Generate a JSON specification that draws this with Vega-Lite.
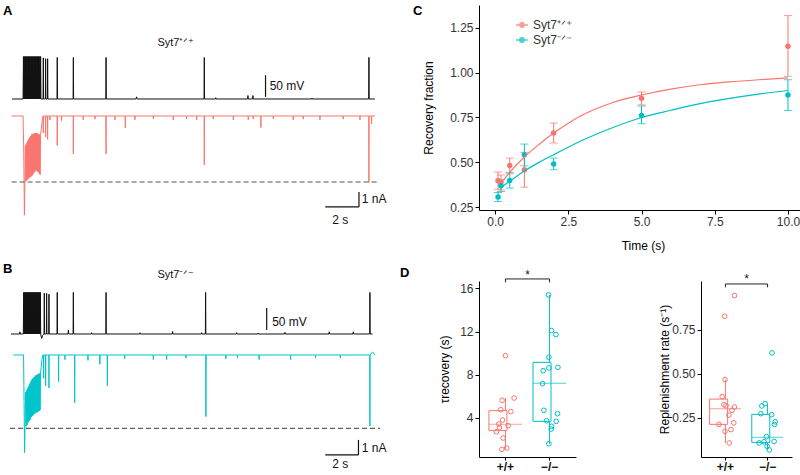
{
  "$schema": "https://vega.github.io/schema/vega-lite/v6.json",
  "padding": {"top": 4, "left": 0, "right": 0, "bottom": 0},
  "background": "white",
  "config": {
    "font": "Liberation Sans",
    "view": {"stroke": null},
    "axis": {"domainColor": "black", "tickColor": "black", "labelColor": "#333", "labelFontSize": 12, "titleFontSize": 12, "titleFontWeight": "normal", "titleColor": "black", "grid": false, "tickSize": 4, "labelPadding": 2, "domainWidth": 1, "titlePadding": 4},
    "title": {"fontSize": 13, "fontWeight": "bold", "anchor": "start", "color": "black", "frame": "group"}
  },
  "datasets": {
    "A_V": [
      {"t":0.72,"v":-65},{"t":1.39,"v":-65},{"t":1.4125,"v":33},{"t":1.435,"v":-65},{"t":1.4575,"v":33},{"t":1.48,"v":-65},{"t":1.5025,"v":33},{"t":1.525,"v":-65},{"t":1.5475,"v":33},{"t":1.57,"v":-65},{"t":1.5925,"v":33},{"t":1.615,"v":-65},{"t":1.6375,"v":33},{"t":1.66,"v":-65},{"t":1.6825,"v":33},{"t":1.705,"v":-65},{"t":1.7275,"v":33},{"t":1.75,"v":-65},{"t":1.7725,"v":33},{"t":1.795,"v":-65},{"t":1.8175,"v":33},{"t":1.84,"v":-65},{"t":1.8625,"v":33},{"t":1.885,"v":-65},{"t":1.9075,"v":33},{"t":1.93,"v":-65},{"t":1.9525,"v":33},{"t":1.975,"v":-65},{"t":1.9975,"v":33},{"t":2.02,"v":-65},{"t":2.0425,"v":33},{"t":2.065,"v":-65},{"t":2.0875,"v":33},{"t":2.11,"v":-65},{"t":2.1325,"v":33},{"t":2.155,"v":-65},{"t":2.1775,"v":33},{"t":2.2,"v":-65},{"t":2.2225,"v":33},{"t":2.245,"v":-65},{"t":2.2675,"v":33},{"t":2.29,"v":-65},{"t":2.3125,"v":33},{"t":2.335,"v":-65},{"t":2.3575,"v":33},{"t":2.38,"v":-65},{"t":2.4025,"v":33},{"t":2.425,"v":-65},{"t":2.4475,"v":33},{"t":2.47,"v":-65},
      {"t":2.595,"v":-65},{"t":2.61,"v":30},{"t":2.625,"v":-65},
      {"t":2.735,"v":-65},{"t":2.75,"v":28},{"t":2.765,"v":-65},
      {"t":2.855,"v":-65},{"t":2.87,"v":28},{"t":2.885,"v":-65},
      {"t":3.435,"v":-65},{"t":3.45,"v":31},{"t":3.465,"v":-65},
      {"t":4.405,"v":-65},{"t":4.42,"v":31},{"t":4.435,"v":-65},
      {"t":6.375,"v":-65},{"t":6.39,"v":31},{"t":6.405,"v":-65},
      {"t":8.2,"v":-65},{"t":8.23,"v":-60},{"t":8.26,"v":-65},
      {"t":12.295,"v":-65},{"t":12.31,"v":31},{"t":12.325,"v":-65},
      {"t":12.98,"v":-65},{"t":13.0,"v":-62},{"t":13.02,"v":-65},
      {"t":14.92,"v":-65},{"t":14.94,"v":-57},{"t":14.96,"v":-65},
      {"t":15.22,"v":-65},{"t":15.24,"v":-57},{"t":15.26,"v":-65},
      {"t":18.78,"v":-65},{"t":18.8,"v":-63},{"t":18.82,"v":-65},
      {"t":22.215,"v":-65},{"t":22.23,"v":31},{"t":22.245,"v":-65},
      {"t":22.59,"v":-65}
    ],
    "A_I": [
      {"t":0.7,"v":0},{"t":1.39,"v":0},{"t":1.43,"v":-2.2},{"t":1.47,"v":-6.4},{"t":1.5,"v":-4.5},{"t":1.52,"v":-2.0},
      {"t":1.54,"v":-1.9},{"t":1.5625,"v":-4.2},{"t":1.585,"v":-1.8},{"t":1.6075,"v":-4.15},{"t":1.63,"v":-1.7},{"t":1.6525,"v":-4.1},{"t":1.675,"v":-1.6},{"t":1.6975,"v":-4.05},{"t":1.72,"v":-1.5},{"t":1.7425,"v":-4.0},{"t":1.765,"v":-1.45},{"t":1.7875,"v":-3.95},{"t":1.81,"v":-1.35},{"t":1.8325,"v":-3.95},{"t":1.855,"v":-1.3},{"t":1.8775,"v":-3.9},{"t":1.9,"v":-1.2},{"t":1.9225,"v":-3.85},{"t":1.945,"v":-1.2},{"t":1.9675,"v":-3.8},{"t":1.99,"v":-1.15},{"t":2.0125,"v":-3.7},{"t":2.035,"v":-1.15},{"t":2.0575,"v":-3.65},{"t":2.08,"v":-1.1},{"t":2.1025,"v":-3.6},{"t":2.125,"v":-1.1},{"t":2.1475,"v":-3.5},{"t":2.17,"v":-1.1},{"t":2.1925,"v":-3.5},{"t":2.215,"v":-1.1},{"t":2.2375,"v":-3.55},{"t":2.26,"v":-1.15},{"t":2.2825,"v":-3.6},{"t":2.305,"v":-1.15},{"t":2.3275,"v":-3.65},{"t":2.35,"v":-1.2},{"t":2.3725,"v":-3.7},{"t":2.395,"v":-1.2},{"t":2.4175,"v":-3.8},{"t":2.44,"v":-1.2},
      {"t":2.48,"v":-0.9},{"t":2.52,"v":-0.5},{"t":2.56,"v":-0.2},{"t":2.59,"v":0},
      {"t":2.6,"v":0},{"t":2.61,"v":-1.1},{"t":2.62,"v":0},
      {"t":2.74,"v":0},{"t":2.75,"v":-1.35},{"t":2.76,"v":0},
      {"t":2.86,"v":0},{"t":2.87,"v":-1.5},{"t":2.88,"v":0},
      {"t":3.0,"v":0},{"t":3.01,"v":-0.25},{"t":3.02,"v":0},
      {"t":3.44,"v":0},{"t":3.45,"v":-1.9},{"t":3.46,"v":0},
      {"t":3.7,"v":0},{"t":3.71,"v":-0.3},{"t":3.72,"v":0},
      {"t":4.41,"v":0},{"t":4.42,"v":-2.45},{"t":4.43,"v":0},
      {"t":5.01,"v":0},{"t":5.02,"v":-0.25},{"t":5.03,"v":0},
      {"t":5.71,"v":0},{"t":5.72,"v":-0.2},{"t":5.73,"v":0},
      {"t":6.38,"v":0},{"t":6.39,"v":-2.45},{"t":6.4,"v":0},
      {"t":6.92,"v":0},{"t":6.93,"v":-0.25},{"t":6.94,"v":0},
      {"t":7.54,"v":0},{"t":7.55,"v":-0.77},{"t":7.56,"v":0},
      {"t":8.12,"v":0},{"t":8.13,"v":-0.25},{"t":8.14,"v":0},
      {"t":9.23,"v":0},{"t":9.24,"v":-0.2},{"t":9.25,"v":0},
      {"t":10.43,"v":0},{"t":10.44,"v":-0.25},{"t":10.45,"v":0},
      {"t":11.23,"v":0},{"t":11.24,"v":-0.2},{"t":11.25,"v":0},
      {"t":11.84,"v":0},{"t":11.85,"v":-0.25},{"t":11.86,"v":0},
      {"t":12.3,"v":0},{"t":12.31,"v":-3.16},{"t":12.32,"v":0},
      {"t":12.84,"v":0},{"t":12.85,"v":-0.2},{"t":12.86,"v":0},
      {"t":14.05,"v":0},{"t":14.06,"v":-0.25},{"t":14.07,"v":0},
      {"t":14.95,"v":0},{"t":14.96,"v":-0.25},{"t":14.97,"v":0},
      {"t":15.25,"v":0},{"t":15.26,"v":-0.2},{"t":15.27,"v":0},
      {"t":15.71,"v":0},{"t":15.72,"v":-0.75},{"t":15.73,"v":0},
      {"t":16.46,"v":0},{"t":16.47,"v":-0.2},{"t":16.48,"v":0},
      {"t":17.66,"v":0},{"t":17.67,"v":-0.25},{"t":17.68,"v":0},
      {"t":18.26,"v":0},{"t":18.27,"v":-0.2},{"t":18.28,"v":0},
      {"t":19.27,"v":0},{"t":19.28,"v":-0.25},{"t":19.29,"v":0},
      {"t":20.67,"v":0},{"t":20.68,"v":-0.2},{"t":20.69,"v":0},
      {"t":21.68,"v":0},{"t":21.69,"v":-0.25},{"t":21.7,"v":0},
      {"t":22.22,"v":0},{"t":22.23,"v":-4.28},{"t":22.24,"v":0},
      {"t":22.38,"v":0},{"t":22.39,"v":-0.5},{"t":22.4,"v":0},{"t":22.6,"v":0}
    ],
    "B_V": [
      {"t":0.66,"v":-65},{"t":1.18,"v":-65},{"t":1.2,"v":-60},{"t":1.22,"v":-65},{"t":1.38,"v":-65},
      {"t":1.405,"v":-65},{"t":1.4268,"v":31},{"t":1.4486,"v":-65},{"t":1.4704,"v":31},{"t":1.4922,"v":-65},{"t":1.514,"v":31},{"t":1.5358,"v":-65},{"t":1.5576,"v":31},{"t":1.5794,"v":-65},{"t":1.6012,"v":31},{"t":1.623,"v":-65},{"t":1.6448,"v":31},{"t":1.6666,"v":-65},{"t":1.6884,"v":31},{"t":1.7102,"v":-65},{"t":1.732,"v":31},{"t":1.7538,"v":-65},{"t":1.7756,"v":31},{"t":1.7974,"v":-65},{"t":1.8192,"v":31},{"t":1.841,"v":-65},{"t":1.8628,"v":31},{"t":1.8846,"v":-65},{"t":1.9064,"v":31},{"t":1.9282,"v":-65},{"t":1.95,"v":31},{"t":1.9718,"v":-65},{"t":1.9936,"v":31},{"t":2.0154,"v":-65},{"t":2.0372,"v":31},{"t":2.059,"v":-65},{"t":2.0808,"v":31},{"t":2.1026,"v":-65},{"t":2.1244,"v":31},{"t":2.1462,"v":-65},{"t":2.168,"v":31},{"t":2.1898,"v":-65},{"t":2.2116,"v":31},{"t":2.2334,"v":-65},{"t":2.2552,"v":31},{"t":2.277,"v":-65},{"t":2.2988,"v":31},{"t":2.3206,"v":-65},{"t":2.3424,"v":31},{"t":2.3642,"v":-65},{"t":2.386,"v":31},{"t":2.4078,"v":-65},{"t":2.4296,"v":31},{"t":2.4514,"v":-65},
      {"t":2.49,"v":-72},{"t":2.52,"v":-75},{"t":2.56,"v":-69},{"t":2.62,"v":-66},
      {"t":2.655,"v":-66},{"t":2.67,"v":29},{"t":2.685,"v":-65},
      {"t":2.795,"v":-65},{"t":2.81,"v":29},{"t":2.825,"v":-65},
      {"t":2.935,"v":-65},{"t":2.95,"v":27},{"t":2.965,"v":-65},
      {"t":3.435,"v":-65},{"t":3.45,"v":31},{"t":3.465,"v":-65},
      {"t":4.1,"v":-65},{"t":4.12,"v":-56},{"t":4.14,"v":-65},
      {"t":4.405,"v":-65},{"t":4.42,"v":31},{"t":4.435,"v":-65},
      {"t":5.5,"v":-65},{"t":5.52,"v":-62},{"t":5.54,"v":-65},
      {"t":6.375,"v":-65},{"t":6.39,"v":31},{"t":6.405,"v":-65},
      {"t":8.41,"v":-65},{"t":8.43,"v":-62},{"t":8.45,"v":-65},
      {"t":10.38,"v":-65},{"t":10.4,"v":-59},{"t":10.42,"v":-65},
      {"t":12.13,"v":-65},{"t":12.15,"v":-62},{"t":12.17,"v":-65},
      {"t":12.375,"v":-65},{"t":12.39,"v":31},{"t":12.405,"v":-65},
      {"t":14.24,"v":-65},{"t":14.26,"v":-62},{"t":14.28,"v":-65},
      {"t":15.54,"v":-65},{"t":15.56,"v":-63},{"t":15.58,"v":-65},
      {"t":17.15,"v":-65},{"t":17.17,"v":-61},{"t":17.19,"v":-65},
      {"t":19.82,"v":-65},{"t":19.84,"v":-60},{"t":19.86,"v":-65},
      {"t":21.27,"v":-65},{"t":21.29,"v":-60},{"t":21.31,"v":-65},
      {"t":22.275,"v":-65},{"t":22.29,"v":31},{"t":22.305,"v":-65},
      {"t":22.45,"v":-65}
    ],
    "B_I": [
      {"t":0.8,"v":0},{"t":1.42,"v":0},{"t":1.45,"v":-3},{"t":1.48,"v":-6.3},{"t":1.51,"v":-4.6},{"t":1.54,"v":-2.4},
      {"t":1.56,"v":-2.4},{"t":1.582,"v":-4.6},{"t":1.604,"v":-2.3},{"t":1.626,"v":-4.5},{"t":1.648,"v":-2.2},{"t":1.67,"v":-4.4},{"t":1.692,"v":-2.1},{"t":1.714,"v":-4.3},{"t":1.736,"v":-2.0},{"t":1.758,"v":-4.25},{"t":1.78,"v":-1.9},{"t":1.802,"v":-4.2},{"t":1.824,"v":-1.8},{"t":1.846,"v":-4.1},{"t":1.868,"v":-1.7},{"t":1.89,"v":-4.0},{"t":1.912,"v":-1.6},{"t":1.934,"v":-3.95},{"t":1.956,"v":-1.55},{"t":1.978,"v":-3.9},{"t":2.0,"v":-1.5},{"t":2.022,"v":-3.85},{"t":2.044,"v":-1.45},{"t":2.066,"v":-3.8},{"t":2.088,"v":-1.4},{"t":2.11,"v":-3.75},{"t":2.132,"v":-1.35},{"t":2.154,"v":-3.75},{"t":2.176,"v":-1.3},{"t":2.198,"v":-3.7},{"t":2.22,"v":-1.3},{"t":2.242,"v":-3.7},{"t":2.264,"v":-1.25},{"t":2.286,"v":-3.65},{"t":2.308,"v":-1.25},{"t":2.33,"v":-3.6},{"t":2.352,"v":-1.2},{"t":2.374,"v":-3.6},{"t":2.396,"v":-1.2},{"t":2.418,"v":-3.55},{"t":2.44,"v":-1.18},
      {"t":2.48,"v":-0.8},{"t":2.53,"v":-0.3},{"t":2.58,"v":0},
      {"t":2.62,"v":0},{"t":2.63,"v":-1.5},{"t":2.64,"v":0},
      {"t":2.74,"v":0},{"t":2.75,"v":-2.0},{"t":2.76,"v":0},
      {"t":2.94,"v":0},{"t":2.95,"v":-2.13},{"t":2.96,"v":0},
      {"t":3.52,"v":0},{"t":3.53,"v":-1.72},{"t":3.54,"v":0},
      {"t":3.9,"v":0},{"t":3.91,"v":-0.3},{"t":3.92,"v":0},
      {"t":4.49,"v":0},{"t":4.5,"v":-3.08},{"t":4.51,"v":0},
      {"t":5.29,"v":0},{"t":5.3,"v":-0.35},{"t":5.31,"v":0},
      {"t":6.01,"v":0},{"t":6.02,"v":-0.6},{"t":6.03,"v":0},
      {"t":6.46,"v":0},{"t":6.47,"v":-2.0},{"t":6.48,"v":0},
      {"t":7.5,"v":0},{"t":7.51,"v":-0.25},{"t":7.52,"v":0},
      {"t":9.23,"v":0},{"t":9.24,"v":-0.3},{"t":9.25,"v":0},
      {"t":10.03,"v":0},{"t":10.04,"v":-0.3},{"t":10.05,"v":0},
      {"t":11.2,"v":0},{"t":11.21,"v":-0.2},{"t":11.22,"v":0},
      {"t":12.4,"v":0},{"t":12.41,"v":-3.98},{"t":12.42,"v":0},
      {"t":13.6,"v":0},{"t":13.61,"v":-0.25},{"t":13.62,"v":0},
      {"t":14.3,"v":0},{"t":14.31,"v":-0.2},{"t":14.32,"v":0},
      {"t":15.6,"v":0},{"t":15.61,"v":-0.3},{"t":15.62,"v":0},
      {"t":17.5,"v":0},{"t":17.51,"v":-0.3},{"t":17.52,"v":0},
      {"t":19.0,"v":0},{"t":19.01,"v":-0.2},{"t":19.02,"v":0},
      {"t":20.5,"v":0},{"t":20.51,"v":-0.2},{"t":20.52,"v":0},
      {"t":22.28,"v":0},{"t":22.29,"v":-4.58},{"t":22.3,"v":0},
      {"t":22.45,"v":0.2},{"t":22.6,"v":0}
    ],
    "recovery": [
      {"genotype":"+/+","time":0.1,"mean":0.398,"lo":0.351,"hi":0.446},
      {"genotype":"+/+","time":0.2,"mean":0.388,"lo":0.347,"hi":0.43},
      {"genotype":"+/+","time":0.5,"mean":0.483,"lo":0.437,"hi":0.524},
      {"genotype":"+/+","time":1,"mean":0.459,"lo":0.362,"hi":0.556},
      {"genotype":"+/+","time":2,"mean":0.663,"lo":0.608,"hi":0.719},
      {"genotype":"+/+","time":5,"mean":0.857,"lo":0.82,"hi":0.892},
      {"genotype":"+/+","time":10,"mean":1.146,"lo":0.979,"hi":1.317},
      {"genotype":"−/−","time":0.1,"mean":0.307,"lo":0.282,"hi":0.333},
      {"genotype":"−/−","time":0.2,"mean":0.37,"lo":0.338,"hi":0.403},
      {"genotype":"−/−","time":0.5,"mean":0.399,"lo":0.357,"hi":0.444},
      {"genotype":"−/−","time":1,"mean":0.543,"lo":0.481,"hi":0.602},
      {"genotype":"−/−","time":2,"mean":0.491,"lo":0.459,"hi":0.524},
      {"genotype":"−/−","time":5,"mean":0.761,"lo":0.715,"hi":0.814},
      {"genotype":"−/−","time":10,"mean":0.875,"lo":0.789,"hi":0.96}
    ],
    "fit": [
      {"genotype":"+/+","time":0.2,"fit":0.385},{"genotype":"+/+","time":0.5,"fit":0.445},{"genotype":"+/+","time":1,"fit":0.53},{"genotype":"+/+","time":1.5,"fit":0.6},{"genotype":"+/+","time":2,"fit":0.663},{"genotype":"+/+","time":2.5,"fit":0.718},{"genotype":"+/+","time":3,"fit":0.765},{"genotype":"+/+","time":4,"fit":0.832},{"genotype":"+/+","time":5,"fit":0.875},{"genotype":"+/+","time":6,"fit":0.908},{"genotype":"+/+","time":7,"fit":0.932},{"genotype":"+/+","time":8,"fit":0.948},{"genotype":"+/+","time":9,"fit":0.96},{"genotype":"+/+","time":10,"fit":0.97},
      {"genotype":"−/−","time":0.2,"fit":0.36},{"genotype":"−/−","time":0.5,"fit":0.395},{"genotype":"−/−","time":1,"fit":0.452},{"genotype":"−/−","time":1.5,"fit":0.5},{"genotype":"−/−","time":2,"fit":0.543},{"genotype":"−/−","time":3,"fit":0.625},{"genotype":"−/−","time":4,"fit":0.693},{"genotype":"−/−","time":5,"fit":0.75},{"genotype":"−/−","time":6,"fit":0.79},{"genotype":"−/−","time":7,"fit":0.827},{"genotype":"−/−","time":8,"fit":0.856},{"genotype":"−/−","time":9,"fit":0.88},{"genotype":"−/−","time":10,"fit":0.9}
    ],
    "tauBox": [
      {"genotype":"+/+","lower":1.10,"q1":2.83,"median":3.41,"q3":4.68,"upper":5.85},
      {"genotype":"−/−","lower":1.62,"q1":3.69,"median":7.21,"q3":9.15,"upper":15.39}
    ],
    "tauPts": [
      {"genotype":"+/+","tau":9.77,"jitter":0.5},{"genotype":"+/+","tau":5.64,"jitter":0.424},{"genotype":"+/+","tau":5.85,"jitter":0.697},{"genotype":"+/+","tau":4.77,"jitter":0.394},{"genotype":"+/+","tau":4.59,"jitter":0.621},{"genotype":"+/+","tau":3.81,"jitter":0.432},{"genotype":"+/+","tau":3.44,"jitter":0.348},{"genotype":"+/+","tau":3.29,"jitter":0.561},{"genotype":"+/+","tau":3.10,"jitter":0.364},{"genotype":"+/+","tau":2.73,"jitter":0.295},{"genotype":"+/+","tau":2.15,"jitter":0.447},{"genotype":"+/+","tau":1.22,"jitter":0.53},{"genotype":"+/+","tau":1.10,"jitter":0.417},
      {"genotype":"−/−","tau":15.39,"jitter":0.477},{"genotype":"−/−","tau":12.09,"jitter":0.545},{"genotype":"−/−","tau":11.72,"jitter":0.644},{"genotype":"−/−","tau":9.62,"jitter":0.485},{"genotype":"−/−","tau":8.38,"jitter":0.356},{"genotype":"−/−","tau":8.63,"jitter":0.485},{"genotype":"−/−","tau":8.69,"jitter":0.689},{"genotype":"−/−","tau":7.18,"jitter":0.341},{"genotype":"−/−","tau":4.71,"jitter":0.371},{"genotype":"−/−","tau":4.40,"jitter":0.682},{"genotype":"−/−","tau":3.75,"jitter":0.432},{"genotype":"−/−","tau":3.69,"jitter":0.652},{"genotype":"−/−","tau":3.23,"jitter":0.545},{"genotype":"−/−","tau":2.98,"jitter":0.538},{"genotype":"−/−","tau":1.62,"jitter":0.485}
    ],
    "rateBox": [
      {"genotype":"+/+","lower":0.106,"q1":0.212,"median":0.301,"q3":0.356,"upper":0.467},
      {"genotype":"−/−","lower":0.066,"q1":0.109,"median":0.138,"q3":0.269,"upper":0.330}
    ],
    "ratePts": [
      {"genotype":"+/+","rate":0.946,"jitter":0.683},{"genotype":"+/+","rate":0.828,"jitter":0.46},{"genotype":"+/+","rate":0.467,"jitter":0.468},{"genotype":"+/+","rate":0.370,"jitter":0.405},{"genotype":"+/+","rate":0.324,"jitter":0.444},{"genotype":"+/+","rate":0.318,"jitter":0.492},{"genotype":"+/+","rate":0.311,"jitter":0.683},{"genotype":"+/+","rate":0.292,"jitter":0.627},{"genotype":"+/+","rate":0.265,"jitter":0.556},{"genotype":"+/+","rate":0.212,"jitter":0.333},{"genotype":"+/+","rate":0.221,"jitter":0.667},{"genotype":"+/+","rate":0.172,"jitter":0.468},{"genotype":"+/+","rate":0.182,"jitter":0.603},{"genotype":"+/+","rate":0.106,"jitter":0.563},
      {"genotype":"−/−","rate":0.619,"jitter":0.579},{"genotype":"−/−","rate":0.330,"jitter":0.421},{"genotype":"−/−","rate":0.317,"jitter":0.349},{"genotype":"−/−","rate":0.267,"jitter":0.571},{"genotype":"−/−","rate":0.273,"jitter":0.325},{"genotype":"−/−","rate":0.227,"jitter":0.651},{"genotype":"−/−","rate":0.212,"jitter":0.635},{"genotype":"−/−","rate":0.142,"jitter":0.452},{"genotype":"−/−","rate":0.106,"jitter":0.286},{"genotype":"−/−","rate":0.113,"jitter":0.397},{"genotype":"−/−","rate":0.115,"jitter":0.627},{"genotype":"−/−","rate":0.087,"jitter":0.468},{"genotype":"−/−","rate":0.066,"jitter":0.516}
    ],
    "tauBracket": [
      {"genotype":"+/+","y":16.56,"k":1},{"genotype":"+/+","y":16.87,"k":2},{"genotype":"−/−","y":16.87,"k":3},{"genotype":"−/−","y":16.56,"k":4}
    ],
    "rateBracket": [
      {"genotype":"+/+","y":0.993,"k":1},{"genotype":"+/+","y":1.012,"k":2},{"genotype":"−/−","y":1.012,"k":3},{"genotype":"−/−","y":0.993,"k":4}
    ]
  },
  "hconcat": [
    {
      "vconcat": [
        {
          "title": {"text": "A", "offset": -12.7, "dx": 3},
          "width": 390, "height": 228,
          "layer": [
            {"layer": [
              {"data": {"name": "A_V"}, "mark": {"type": "line", "color": "#111", "strokeWidth": 1},
               "encoding": {"x": {"field": "t", "type": "quantitative", "scale": {"domain": [0, 23.5], "nice": false, "zero": false}, "axis": null},
                            "y": {"field": "v", "type": "quantitative", "scale": {"domain": [-374.5, 152.1], "nice": false, "zero": false}, "axis": null}}},
              {"data": {"values": [{}]}, "mark": {"type": "rule", "color": "#111", "strokeWidth": 1.2},
               "encoding": {"x": {"datum": 16.0, "type": "quantitative", "scale": {"domain": [0, 23.5], "nice": false, "zero": false}}, "y": {"datum": -60, "type": "quantitative", "scale": {"domain": [-374.5, 152.1], "nice": false, "zero": false}}, "y2": {"datum": -10}}},
              {"data": {"values": [{}]}, "mark": {"type": "text", "align": "left", "baseline": "middle", "fontSize": 12, "color": "#111"},
               "encoding": {"x": {"datum": 16.25, "type": "quantitative"}, "y": {"datum": -35, "type": "quantitative"}, "text": {"value": "50 mV"}}},
              {"data": {"values": [{}]}, "mark": {"type": "text", "align": "center", "baseline": "middle", "fontSize": 11, "color": "#111"},
               "encoding": {"x": {"datum": 10.6, "type": "quantitative"}, "y": {"datum": 64, "type": "quantitative"}, "text": {"value": "Syt7⁺ᐟ⁺"}}}
            ]},
            {"layer": [
              {"data": {"name": "A_I"}, "mark": {"type": "line", "color": "#F8766D", "strokeWidth": 1},
               "encoding": {"x": {"field": "t", "type": "quantitative", "scale": {"domain": [0, 23.5], "nice": false, "zero": false}, "axis": null},
                            "y": {"field": "v", "type": "quantitative", "scale": {"domain": [-7.55, 7.16], "nice": false, "zero": false}, "axis": null}}},
              {"data": {"values": [{}]}, "mark": {"type": "rule", "color": "#555", "strokeWidth": 1, "strokeDash": [5, 3]},
               "encoding": {"x": {"datum": 0.7, "type": "quantitative"}, "x2": {"datum": 22.8}, "y": {"datum": -4.26, "type": "quantitative", "scale": {"domain": [-7.55, 7.16], "nice": false, "zero": false}}}},
              {"data": {"values": [{}]}, "mark": {"type": "rule", "color": "#111", "strokeWidth": 1.2},
               "encoding": {"x": {"datum": 21.63, "type": "quantitative"}, "y": {"datum": -5.87, "type": "quantitative"}, "y2": {"datum": -4.9}}},
              {"data": {"values": [{}]}, "mark": {"type": "rule", "color": "#111", "strokeWidth": 1.2},
               "encoding": {"x": {"datum": 19.6, "type": "quantitative"}, "x2": {"datum": 21.63}, "y": {"datum": -5.87, "type": "quantitative"}}},
              {"data": {"values": [{}]}, "mark": {"type": "text", "align": "left", "baseline": "middle", "fontSize": 12, "color": "#111"},
               "encoding": {"x": {"datum": 21.8, "type": "quantitative"}, "y": {"datum": -5.35, "type": "quantitative"}, "text": {"value": "1 nA"}}},
              {"data": {"values": [{}]}, "mark": {"type": "text", "align": "center", "baseline": "middle", "fontSize": 12, "color": "#111"},
               "encoding": {"x": {"datum": 20.5, "type": "quantitative"}, "y": {"datum": -6.7, "type": "quantitative"}, "text": {"value": "2 s"}}}
            ]}
          ],
          "resolve": {"scale": {"y": "independent"}}
        },
        {
          "title": {"text": "B", "offset": -10.3, "dx": 3},
          "width": 390, "height": 206,
          "layer": [
            {"layer": [
              {"data": {"name": "B_V"}, "mark": {"type": "line", "color": "#111", "strokeWidth": 1},
               "encoding": {"x": {"field": "t", "type": "quantitative", "scale": {"domain": [0, 23.5], "nice": false, "zero": false}, "axis": null},
                            "y": {"field": "v", "type": "quantitative", "scale": {"domain": [-383.7, 92], "nice": false, "zero": false}, "axis": null}}},
              {"data": {"values": [{}]}, "mark": {"type": "rule", "color": "#111", "strokeWidth": 1.2},
               "encoding": {"x": {"datum": 16.07, "type": "quantitative"}, "y": {"datum": -56, "type": "quantitative", "scale": {"domain": [-383.7, 92], "nice": false, "zero": false}}, "y2": {"datum": -5}}},
              {"data": {"values": [{}]}, "mark": {"type": "text", "align": "left", "baseline": "middle", "fontSize": 12, "color": "#111"},
               "encoding": {"x": {"datum": 16.4, "type": "quantitative"}, "y": {"datum": -36.6, "type": "quantitative"}, "text": {"value": "50 mV"}}},
              {"data": {"values": [{}]}, "mark": {"type": "text", "align": "center", "baseline": "middle", "fontSize": 11, "color": "#111"},
               "encoding": {"x": {"datum": 10.6, "type": "quantitative"}, "y": {"datum": 71, "type": "quantitative"}, "text": {"value": "Syt7⁻ᐟ⁻"}}}
            ]},
            {"layer": [
              {"data": {"name": "B_I"}, "mark": {"type": "line", "color": "#00C4CC", "strokeWidth": 1},
               "encoding": {"x": {"field": "t", "type": "quantitative", "scale": {"domain": [0, 23.5], "nice": false, "zero": false}, "axis": null},
                            "y": {"field": "v", "type": "quantitative", "scale": {"domain": [-7.55, 5.74], "nice": false, "zero": false}, "axis": null}}},
              {"data": {"values": [{}]}, "mark": {"type": "rule", "color": "#333", "strokeWidth": 1, "strokeDash": [5, 3]},
               "encoding": {"x": {"datum": 0.6, "type": "quantitative"}, "x2": {"datum": 22.9}, "y": {"datum": -4.73, "type": "quantitative", "scale": {"domain": [-7.55, 5.74], "nice": false, "zero": false}}}},
              {"data": {"values": [{}]}, "mark": {"type": "rule", "color": "#111", "strokeWidth": 1.2},
               "encoding": {"x": {"datum": 21.6, "type": "quantitative"}, "y": {"datum": -6.45, "type": "quantitative"}, "y2": {"datum": -5.48}}},
              {"data": {"values": [{}]}, "mark": {"type": "rule", "color": "#111", "strokeWidth": 1.2},
               "encoding": {"x": {"datum": 19.6, "type": "quantitative"}, "x2": {"datum": 21.6}, "y": {"datum": -6.45, "type": "quantitative"}}},
              {"data": {"values": [{}]}, "mark": {"type": "text", "align": "left", "baseline": "middle", "fontSize": 12, "color": "#111"},
               "encoding": {"x": {"datum": 21.8, "type": "quantitative"}, "y": {"datum": -6.0, "type": "quantitative"}, "text": {"value": "1 nA"}}},
              {"data": {"values": [{}]}, "mark": {"type": "text", "align": "center", "baseline": "middle", "fontSize": 12, "color": "#111"},
               "encoding": {"x": {"datum": 20.5, "type": "quantitative"}, "y": {"datum": -7.05, "type": "quantitative"}, "text": {"value": "2 s"}}}
            ]}
          ],
          "resolve": {"scale": {"y": "independent"}}
        }
      ],
      "spacing": 30
    },
    {
      "vconcat": [
        {
          "title": {"text": "C", "offset": -13, "dx": -66},
          "width": 328, "height": 205,
          "layer": [
            {"data": {"name": "recovery"}, "mark": {"type": "rule", "strokeWidth": 1},
             "encoding": {"x": {"field": "time", "type": "quantitative", "scale": {"domain": [-0.55, 10.65], "nice": false, "zero": false},
                                "axis": {"title": "Time (s)", "values": [0, 2.5, 5, 7.5, 10], "format": ".1f", "titlePadding": 13}},
                          "y": {"field": "lo", "type": "quantitative", "scale": {"domain": [0.235, 1.376], "nice": false, "zero": false},
                                "axis": {"title": "Recovery fraction", "values": [0.25, 0.5, 0.75, 1, 1.25], "format": ".2f", "titlePadding": 14}},
                          "y2": {"field": "hi"},
                          "color": {"field": "genotype", "type": "nominal", "scale": {"domain": ["+/+", "−/−"], "range": ["#F8766D", "#00BFC4"]},
                                    "legend": {"orient": "none", "legendX": 36, "legendY": 13, "title": null,
                                               "labelExpr": "datum.value == '+/+' ? 'Syt7⁺ᐟ⁺' : 'Syt7⁻ᐟ⁻'",
                                               "labelFontSize": 12, "labelColor": "#333", "labelOffset": 4,
                                               "symbolType": "M-1,0H1M0.35,0A0.35,0.35,0,1,1,-0.35,0A0.35,0.35,0,1,1,0.35,0",
                                               "symbolSize": 150, "symbolStrokeWidth": 1.6, "rowPadding": 2}}}},
            {"data": {"name": "recovery"}, "mark": {"type": "tick", "orient": "horizontal", "size": 8, "thickness": 1},
             "encoding": {"x": {"field": "time", "type": "quantitative"}, "y": {"field": "lo", "type": "quantitative"},
                          "color": {"field": "genotype", "type": "nominal"}}},
            {"data": {"name": "recovery"}, "mark": {"type": "tick", "orient": "horizontal", "size": 8, "thickness": 1},
             "encoding": {"x": {"field": "time", "type": "quantitative"}, "y": {"field": "hi", "type": "quantitative"},
                          "color": {"field": "genotype", "type": "nominal"}}},
            {"data": {"name": "recovery"}, "mark": {"type": "point", "filled": true, "shape": "circle", "size": 30, "opacity": 1},
             "encoding": {"x": {"field": "time", "type": "quantitative"}, "y": {"field": "mean", "type": "quantitative"},
                          "color": {"field": "genotype", "type": "nominal"}}},
            {"data": {"name": "fit"}, "mark": {"type": "line", "strokeWidth": 1.2, "interpolate": "monotone"},
             "encoding": {"x": {"field": "time", "type": "quantitative"}, "y": {"field": "fit", "type": "quantitative"},
                          "color": {"field": "genotype", "type": "nominal"}}}
          ]
        },
        {
          "hconcat": [
            {
              "title": {"text": "D", "offset": -11, "dx": -79},
              "width": 97, "height": 176,
              "layer": [
                {"data": {"name": "tauBox"}, "mark": {"type": "rule", "strokeWidth": 1},
                 "encoding": {"x": {"field": "genotype", "type": "nominal", "scale": {"domain": ["+/+", "−/−"], "paddingInner": 0, "paddingOuter": 0.1},
                                    "axis": {"title": null, "labelAngle": 0, "labelFontWeight": "bold", "labelColor": "#111", "labelFontSize": 12, "labelPadding": 1, "tickSize": 3}},
                              "y": {"field": "lower", "type": "quantitative", "scale": {"domain": [0.39, 16.68], "nice": false, "zero": false},
                                    "axis": {"title": "τrecovery (s)", "values": [4, 8, 12, 16], "titlePadding": 8}},
                              "y2": {"field": "upper"},
                              "color": {"field": "genotype", "type": "nominal", "scale": {"domain": ["+/+", "−/−"], "range": ["#F8766D", "#00BFC4"]}, "legend": null}}},
                {"data": {"name": "tauBox"}, "mark": {"type": "bar", "filled": false, "fill": "white", "strokeWidth": 1, "width": {"band": 0.75}},
                 "encoding": {"x": {"field": "genotype", "type": "nominal"}, "y": {"field": "q1", "type": "quantitative"}, "y2": {"field": "q3"},
                              "stroke": {"field": "genotype", "type": "nominal", "scale": {"domain": ["+/+", "−/−"], "range": ["#F8766D", "#00BFC4"]}, "legend": null}}},
                {"data": {"name": "tauBox"}, "mark": {"type": "tick", "orient": "horizontal", "size": 33, "thickness": 1},
                 "encoding": {"x": {"field": "genotype", "type": "nominal"}, "y": {"field": "median", "type": "quantitative"},
                              "color": {"field": "genotype", "type": "nominal", "legend": null}}},
                {"data": {"name": "tauPts"}, "mark": {"type": "point", "shape": "circle", "filled": false, "size": 22, "strokeWidth": 1, "opacity": 1},
                 "encoding": {"x": {"field": "genotype", "type": "nominal"}, "xOffset": {"field": "jitter", "type": "quantitative", "scale": {"domain": [0, 1]}},
                              "y": {"field": "tau", "type": "quantitative"},
                              "color": {"field": "genotype", "type": "nominal", "legend": null}}},
                {"data": {"name": "tauBracket"}, "mark": {"type": "line", "color": "#222", "strokeWidth": 1},
                 "encoding": {"x": {"field": "genotype", "type": "nominal"}, "y": {"field": "y", "type": "quantitative"}, "order": {"field": "k"}}},
                {"data": {"values": [{}]}, "mark": {"type": "text", "fontSize": 12, "color": "#222", "baseline": "middle"},
                 "encoding": {"x": {"datum": "−/−", "type": "nominal", "bandPosition": 0}, "y": {"datum": 17.2, "type": "quantitative"}, "text": {"value": "*"}}}
              ]
            },
            {
              "width": 91, "height": 176,
              "layer": [
                {"data": {"name": "rateBox"}, "mark": {"type": "rule", "strokeWidth": 1},
                 "encoding": {"x": {"field": "genotype", "type": "nominal", "scale": {"domain": ["+/+", "−/−"], "paddingInner": 0, "paddingOuter": 0.08},
                                    "axis": {"title": null, "labelAngle": 0, "labelFontWeight": "bold", "labelColor": "#111", "labelFontSize": 12, "labelPadding": 1, "tickSize": 3}},
                              "y": {"field": "lower", "type": "quantitative", "scale": {"domain": [0.026, 1.029], "nice": false, "zero": false},
                                    "axis": {"title": "Replenishment rate (s⁻¹)", "values": [0.25, 0.5, 0.75], "format": ".2f", "titlePadding": 0}},
                              "y2": {"field": "upper"},
                              "color": {"field": "genotype", "type": "nominal", "scale": {"domain": ["+/+", "−/−"], "range": ["#F8766D", "#00BFC4"]}, "legend": null}}},
                {"data": {"name": "rateBox"}, "mark": {"type": "bar", "filled": false, "fill": "white", "strokeWidth": 1, "width": {"band": 0.75}},
                 "encoding": {"x": {"field": "genotype", "type": "nominal"}, "y": {"field": "q1", "type": "quantitative"}, "y2": {"field": "q3"},
                              "stroke": {"field": "genotype", "type": "nominal", "scale": {"domain": ["+/+", "−/−"], "range": ["#F8766D", "#00BFC4"]}, "legend": null}}},
                {"data": {"name": "rateBox"}, "mark": {"type": "tick", "orient": "horizontal", "size": 31, "thickness": 1},
                 "encoding": {"x": {"field": "genotype", "type": "nominal"}, "y": {"field": "median", "type": "quantitative"},
                              "color": {"field": "genotype", "type": "nominal", "legend": null}}},
                {"data": {"name": "ratePts"}, "mark": {"type": "point", "shape": "circle", "filled": false, "size": 22, "strokeWidth": 1, "opacity": 1},
                 "encoding": {"x": {"field": "genotype", "type": "nominal"}, "xOffset": {"field": "jitter", "type": "quantitative", "scale": {"domain": [0, 1]}},
                              "y": {"field": "rate", "type": "quantitative"},
                              "color": {"field": "genotype", "type": "nominal", "legend": null}}},
                {"data": {"name": "rateBracket"}, "mark": {"type": "line", "color": "#222", "strokeWidth": 1},
                 "encoding": {"x": {"field": "genotype", "type": "nominal"}, "y": {"field": "y", "type": "quantitative"}, "order": {"field": "k"}}},
                {"data": {"values": [{}]}, "mark": {"type": "text", "fontSize": 12, "color": "#222", "baseline": "middle"},
                 "encoding": {"x": {"datum": "−/−", "type": "nominal", "bandPosition": 0}, "y": {"datum": 1.04, "type": "quantitative"}, "text": {"value": "*"}}}
              ]
            }
          ],
          "spacing": 82,
          "resolve": {"scale": {"color": "independent", "stroke": "independent"}, "legend": {"color": "independent", "stroke": "independent"}}
        }
      ],
      "spacing": 16,
      "resolve": {"scale": {"color": "independent", "stroke": "independent"}, "legend": {"color": "independent", "stroke": "independent"}}
    }
  ],
  "spacing": 10,
  "resolve": {"scale": {"color": "independent", "stroke": "independent"}, "legend": {"color": "independent", "stroke": "independent"}}
}
